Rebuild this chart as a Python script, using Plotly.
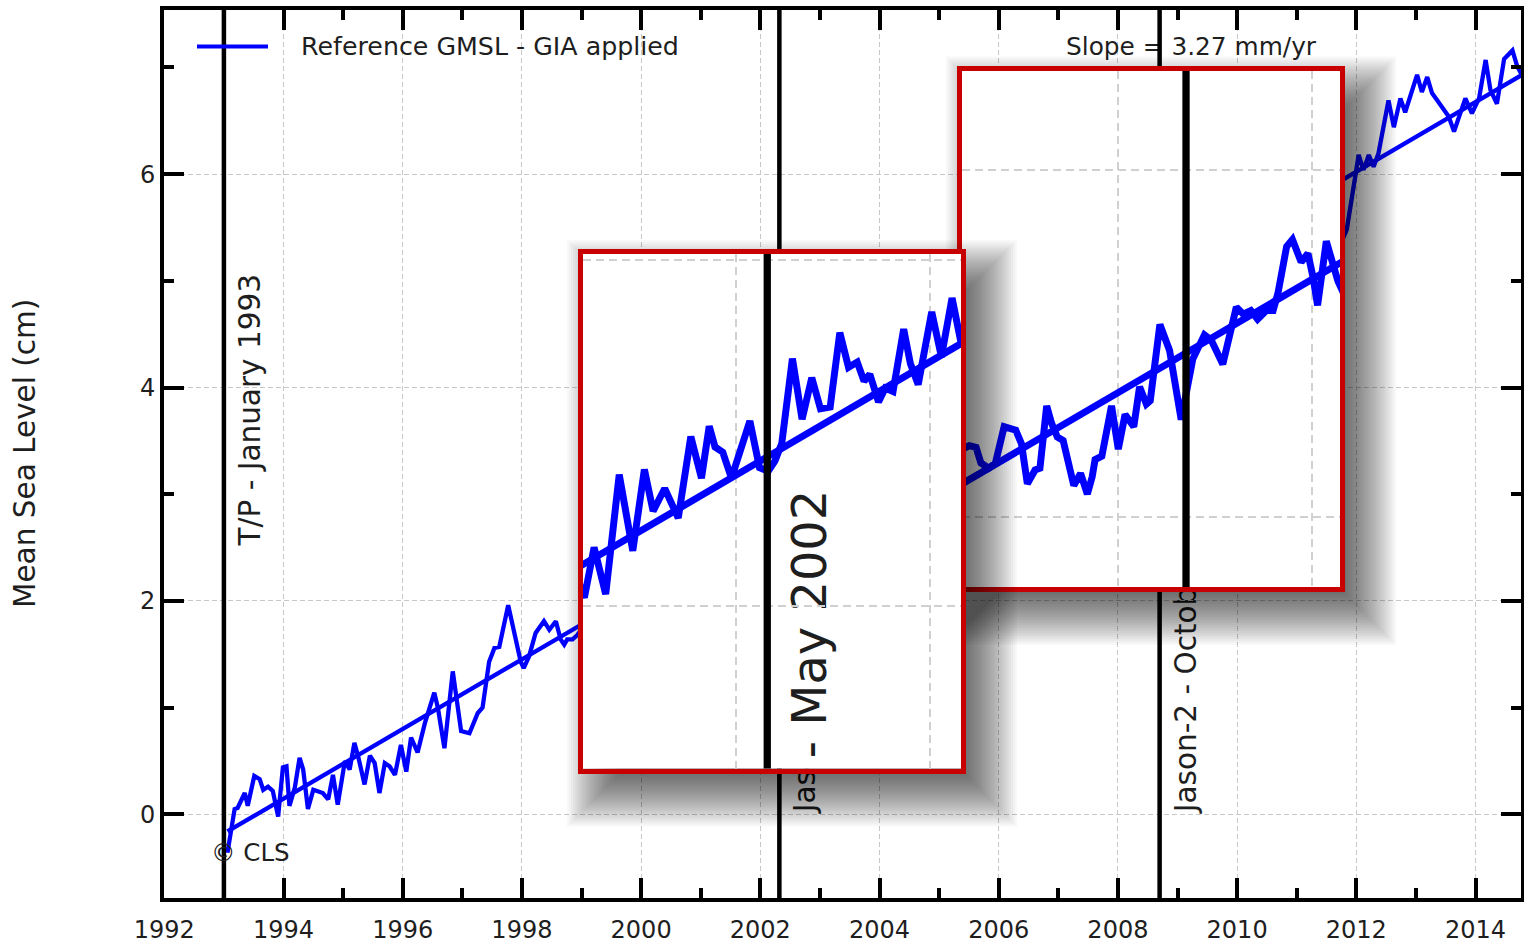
import plotly.graph_objects as go

# ---------------- data ----------------
years_a = [1993.06, 1993.12, 1993.18, 1993.23, 1993.35, 1993.40, 1993.51, 1993.60, 1993.66, 1993.74,
           1993.82, 1993.91, 1993.99, 1994.05, 1994.10, 1994.19, 1994.27, 1994.33, 1994.41, 1994.50,
           1994.58, 1994.66, 1994.75, 1994.83, 1994.91, 1995.03, 1995.11, 1995.19, 1995.25, 1995.36,
           1995.45, 1995.53, 1995.61, 1995.70, 1995.78, 1995.87, 1995.97]
cm_a = [-0.36, -0.14, 0.05, 0.06, 0.20, 0.08, 0.36, 0.33, 0.23, 0.26,
        0.22, -0.02, 0.44, 0.45, 0.08, 0.25, 0.53, 0.42, 0.05, 0.23,
        0.22, 0.20, 0.14, 0.37, 0.09, 0.50, 0.42, 0.67, 0.55, 0.28,
        0.55, 0.48, 0.20, 0.48, 0.45, 0.37, 0.65]

years_b = [1996.06, 1996.14, 1996.25, 1996.37, 1996.53, 1996.59, 1996.70, 1996.84, 1996.98, 1997.12,
           1997.26, 1997.34, 1997.40, 1997.45, 1997.54, 1997.62, 1997.77, 1997.87, 1997.98, 1998.03,
           1998.12, 1998.23, 1998.37, 1998.46, 1998.57, 1998.65, 1998.71, 1998.76, 1998.85, 1998.93,
           1999.04, 1999.15, 1999.30, 1999.45, 1999.60, 1999.75, 1999.90, 2000.05, 2000.20, 2000.33]
cm_b = [0.40, 0.72, 0.58, 0.85, 1.14, 1.00, 0.62, 1.34, 0.78, 0.76,
        0.95, 1.00, 1.26, 1.43, 1.56, 1.57, 1.96, 1.70, 1.43, 1.37,
        1.48, 1.70, 1.81, 1.73, 1.81, 1.64, 1.59, 1.64, 1.64, 1.68,
        1.77, 1.85, 2.05, 1.95, 2.15, 2.00, 2.25, 2.10, 2.30, 2.20]

years_c = [2000.43, 2000.53, 2000.65, 2000.79, 2000.93, 2001.05, 2001.14, 2001.26, 2001.40, 2001.53,
           2001.64, 2001.72, 2001.78, 2001.86, 2001.95, 2002.14, 2002.24, 2002.33, 2002.40, 2002.47,
           2002.58, 2002.68, 2002.78, 2002.87, 2002.97, 2003.07, 2003.16, 2003.25, 2003.32, 2003.38,
           2003.47, 2003.54, 2003.62, 2003.73, 2003.80, 2003.88, 2004.02, 2004.12, 2004.23, 2004.32]
cm_c = [2.05, 2.34, 2.07, 2.76, 2.32, 2.79, 2.55, 2.68, 2.51, 2.98,
        2.74, 3.04, 2.92, 2.89, 2.74, 3.07, 2.80, 2.78, 2.84, 2.94,
        3.43, 3.08, 3.32, 3.14, 3.15, 3.58, 3.38, 3.41, 3.30, 3.34,
        3.18, 3.26, 3.24, 3.60, 3.40, 3.28, 3.70, 3.44, 3.78, 3.53]

years_d = [2004.42, 2004.55, 2004.70, 2004.85, 2005.00, 2005.15, 2005.30, 2005.45, 2005.60, 2005.75,
           2005.90, 2006.05, 2006.20, 2006.35]
cm_d = [3.65, 3.90, 3.70, 3.95, 3.85, 4.10, 3.95, 4.20, 4.05, 4.30,
        4.15, 4.35, 4.25, 4.38]

years_e = [2006.46, 2006.53, 2006.58, 2006.66, 2006.73, 2006.82, 2006.94, 2007.00, 2007.06, 2007.14,
           2007.19, 2007.26, 2007.31, 2007.37, 2007.43, 2007.49, 2007.54, 2007.61, 2007.68, 2007.73,
           2007.76, 2007.83, 2007.93, 2008.00, 2008.07, 2008.16, 2008.22, 2008.29, 2008.33, 2008.43,
           2008.53, 2008.65, 2008.77, 2008.89, 2008.96, 2009.08, 2009.17, 2009.22, 2009.29, 2009.37,
           2009.44, 2009.53, 2009.60, 2009.65, 2009.74, 2009.80, 2009.89, 2009.96, 2010.01, 2010.06,
           2010.15, 2010.22, 2010.27]
cm_e = [4.41, 4.40, 4.31, 4.28, 4.31, 4.52, 4.50, 4.42, 4.19, 4.27,
        4.28, 4.64, 4.54, 4.46, 4.44, 4.31, 4.18, 4.25, 4.13, 4.23,
        4.33, 4.35, 4.64, 4.39, 4.59, 4.52, 4.75, 4.65, 4.67, 5.11,
        4.96, 4.56, 4.91, 5.05, 5.02, 4.88, 5.08, 5.21, 5.17, 5.19,
        5.14, 5.19, 5.19, 5.29, 5.56, 5.60, 5.47, 5.52, 5.39, 5.22,
        5.59, 5.44, 5.36]

years_f = [2010.36, 2010.50, 2010.65, 2010.80, 2010.95, 2011.10, 2011.25, 2011.40, 2011.55, 2011.70,
           2011.84, 2012.04, 2012.12, 2012.21, 2012.29, 2012.37, 2012.54, 2012.63, 2012.74, 2012.82,
           2013.02, 2013.10, 2013.19, 2013.27, 2013.36, 2013.47, 2013.55, 2013.64, 2013.72, 2013.83,
           2013.94, 2014.06, 2014.17, 2014.25, 2014.36, 2014.48, 2014.62, 2014.70, 2014.78]
cm_f = [5.25, 5.10, 5.20, 4.95, 5.00, 4.85, 5.05, 5.15, 5.35, 5.30,
        5.48, 6.18, 6.04, 6.18, 6.07, 6.19, 6.69, 6.44, 6.71, 6.58,
        6.93, 6.77, 6.91, 6.76, 6.69, 6.60, 6.54, 6.40, 6.54, 6.71,
        6.57, 6.71, 7.07, 6.79, 6.66, 7.08, 7.16, 7.01, 6.93]

gmsl_years = years_a + years_b + years_c + years_d + years_e + years_f
gmsl_cm = cm_a + cm_b + cm_c + cm_d + cm_e + cm_f

trend_years = [1993.06, 2014.78]
trend_cm = [-0.16, 6.93]

event_years = [1993.0, 2002.32, 2008.70]
event_labels = ["T/P - January 1993", "Jason-1 - May 2002", "Jason-2 - October 2008"]
event_label_base_cm = [2.52, 0.02, 0.02]

x_tick_years = [1992, 1994, 1996, 1998, 2000, 2002, 2004, 2006, 2008, 2010, 2012, 2014]
y_tick_cm = [0, 2, 4, 6]

legend_label = "Reference GMSL - GIA applied"
slope_label = "Slope = 3.27 mm/yr"
y_title = "Mean Sea Level (cm)"
credit_label = "\u00a9 CLS"

# ---------------- geometry / style ----------------
W, H = 1524, 945
ML, MR, MT, MB = 164, 3, 10, 47
PW = W - ML - MR
PH = H - MT - MB
FONT = "DejaVu Sans"
TXT = "#1e1e1e"
BLUE = "#0000ff"
RED = "rgb(200,0,0)"
LINE_W = 4.3


def fx(px):
    return (px - ML) / PW


def fy(py):
    return (H - MB - py) / PH


MAIN_PPY, MAIN_PPC = 59.6, 106.7
X0_MAIN, Y0_MAIN = 1991.995, -0.784
main_xrange = [X0_MAIN, X0_MAIN + PW / MAIN_PPY]
main_yrange = [Y0_MAIN, Y0_MAIN + PH / MAIN_PPC]

IN_PPY, IN_PPC = 96.75, 173.2
MAG = IN_PPY / MAIN_PPY
LABEL_DX = 0.395


def inset_ranges(px, ref):
    l, r, t, b = px
    rx, rpx, ry, rpy = ref
    xr = [rx + (l - rpx) / IN_PPY, rx + (r - rpx) / IN_PPY]
    yr = [ry - (b - rpy) / IN_PPC, ry + (rpy - t) / IN_PPC]
    return xr, yr


inset1_px = (583, 961, 254, 768.5)
inset2_px = (962, 1340, 70.5, 587)
inset1_xr, inset1_yr = inset_ranges(inset1_px, (2002.0, 736.3, 2.0, 606.3))
inset2_xr, inset2_yr = inset_ranges(inset2_px, (2008.0, 1118.3, 4.0, 516.7))

fig = go.Figure()
layout_axes = {}


def add_series(xa, ya, s):
    fig.add_trace(go.Scatter(x=gmsl_years, y=gmsl_cm, mode="lines",
                             line=dict(color=BLUE, width=LINE_W * s),
                             xaxis=xa, yaxis=ya, showlegend=False, hoverinfo="skip"))
    fig.add_trace(go.Scatter(x=trend_years, y=trend_cm, mode="lines",
                             line=dict(color=BLUE, width=LINE_W * s),
                             xaxis=xa, yaxis=ya, showlegend=False, hoverinfo="skip"))
    for t in event_years:
        fig.add_trace(go.Scatter(x=[t, t], y=[-10, 20], mode="lines",
                                 line=dict(color="black", width=4.5 * s),
                                 xaxis=xa, yaxis=ya, showlegend=False, hoverinfo="skip"))


def add_labels(xa, ya, s, xr=None, yr=None):
    for t, lab, base in zip(event_years, event_labels, event_label_base_cm):
        xl = t + LABEL_DX
        if xr is not None:
            # only keep labels that can be seen inside the magnified view
            if not (xr[0] <= xl <= xr[1]):
                continue
            if base + len(lab) * 0.6 * 29.5 * s / IN_PPC < yr[0]:
                continue
        fig.add_shape(type="line", xref=xa, yref=ya,
                      x0=xl, x1=xl, y0=base, y1=base + 1,
                      line=dict(width=0), layer="below",
                      label=dict(text=lab, textangle=-90, textposition="start",
                                 xanchor="left", yanchor="middle", padding=0,
                                 font=dict(family=FONT, size=29.5 * s, color=TXT)))


def add_shadow(xn, box, dx=20, dy=22, R=64, M=0.58, N=32, m=90):
    l, t, r, b = box
    dl, dr = l - m, r + m
    dt, db = max(t - m, MT), min(b + m, H - MB)
    layout_axes["xaxis" + xn] = dict(domain=[fx(dl), fx(dr)], range=[dl, dr], visible=False,
                                     anchor="y" + xn, fixedrange=True)
    layout_axes["yaxis" + xn] = dict(domain=[fy(db), fy(dt)], range=[db, dt], visible=False,
                                     anchor="x" + xn, fixedrange=True)
    fig.add_trace(go.Scatter(x=[None], y=[None], xaxis="x" + xn, yaxis="y" + xn,
                             showlegend=False, hoverinfo="skip"))
    a = 1 - (1 - M) ** (1.0 / N)
    for k in range(N):
        e = -R / 2 + (k + 0.5) * R / N
        fig.add_shape(type="rect", xref="x" + xn, yref="y" + xn,
                      x0=l + dx - e, x1=r + dx + e, y0=t + dy - e, y1=b + dy + e,
                      fillcolor="black", opacity=a, line=dict(width=0), layer="below")


def add_inset(xn, px, xr, yr):
    l, r, t, b = px
    layout_axes["xaxis" + xn] = dict(domain=[fx(l), fx(r)], range=xr, anchor="y" + xn,
                                     showline=True, linecolor=RED, linewidth=5, mirror=True,
                                     ticks="", showticklabels=False, zeroline=False,
                                     showgrid=True, gridcolor="#d0d0d0", gridwidth=2.2,
                                     griddash="8px,5px", tick0=1992, dtick=2, fixedrange=True)
    layout_axes["yaxis" + xn] = dict(domain=[fy(b), fy(t)], range=yr, anchor="x" + xn,
                                     showline=True, linecolor=RED, linewidth=5, mirror=True,
                                     ticks="", showticklabels=False, zeroline=False,
                                     showgrid=True, gridcolor="#d0d0d0", gridwidth=2.2,
                                     griddash="8px,5px", tick0=0, dtick=2, fixedrange=True)
    # white card under the magnified view
    fig.add_shape(type="rect", xref="x" + xn, yref="y" + xn, x0=1980, x1=2030, y0=-20, y1=30,
                  fillcolor="white", line=dict(width=0), layer="below")
    add_series("x" + xn, "y" + xn, MAG)
    add_labels("x" + xn, "y" + xn, MAG, xr, yr)


# ---- main panel ----
fig.add_trace(go.Scatter(x=[2007.13], y=[7.17], mode="text", text=[slope_label],
                         textposition="middle right",
                         textfont=dict(family=FONT, size=24.8, color=TXT),
                         showlegend=False, hoverinfo="skip"))
add_series("x", "y", 1)
add_labels("x", "y", 1)

# ---- inset 2 (drawn first, below inset 1) ----
add_shadow("2", (957, 65.5, 1345, 592))
add_inset("3", inset2_px, inset2_xr, inset2_yr)

# ---- inset 1 ----
add_shadow("4", (578, 249, 966, 773.5))
add_inset("5", inset1_px, inset1_xr, inset1_yr)

# ---- manual legend ----
fig.add_shape(type="line", xref="paper", yref="paper", x0=fx(197), x1=fx(268),
              y0=fy(46.5), y1=fy(46.5), line=dict(color=BLUE, width=4), layer="above")

annotations = [
    dict(text=legend_label, xref="paper", yref="paper", x=fx(299), y=fy(47),
         xanchor="left", yanchor="middle", showarrow=False,
         font=dict(family=FONT, size=25.3, color=TXT)),
    dict(text=credit_label, xref="paper", yref="paper", x=fx(209), y=fy(852),
         xanchor="left", yanchor="middle", showarrow=False,
         font=dict(family=FONT, size=24.5, color=TXT)),
    dict(text=y_title, xref="paper", yref="paper", x=fx(25), y=fy(454),
         xanchor="center", yanchor="middle", textangle=-90, showarrow=False,
         font=dict(family=FONT, size=29.5, color=TXT)),
]

axis_common = dict(showline=True, linecolor="black", linewidth=4, mirror="allticks",
                   ticks="inside", ticklen=20, tickwidth=4, tickcolor="black",
                   showgrid=True, gridcolor="#c8c8c8", gridwidth=1.3, griddash="5px,3px",
                   zeroline=False, fixedrange=True,
                   tickfont=dict(family=FONT, size=24, color=TXT))

fig.update_layout(
    width=W, height=H,
    margin=dict(l=ML, r=MR, t=MT, b=MB, pad=0),
    template="none",
    paper_bgcolor="white", plot_bgcolor="rgba(0,0,0,0)",
    showlegend=False,
    xaxis=dict(domain=[0, 1], range=main_xrange, anchor="y", tickmode="array",
               tickvals=x_tick_years, ticklabelstandoff=7,
               minor=dict(tickmode="linear", tick0=1992, dtick=1, ticks="inside", ticklen=10,
                          tickwidth=4, tickcolor="black", showgrid=False),
               **axis_common),
    yaxis=dict(domain=[0, 1], range=main_yrange, anchor="x", tickmode="array",
               tickvals=y_tick_cm,
               minor=dict(tickmode="linear", tick0=0, dtick=1, ticks="inside", ticklen=10,
                          tickwidth=4, tickcolor="black", showgrid=False),
               **axis_common),
    annotations=annotations,
    **layout_axes,
)

fig.write_html("out.html", config={"displayModeBar": False},
               post_script="document.body.style.margin='0px';document.body.style.overflow='hidden';")
